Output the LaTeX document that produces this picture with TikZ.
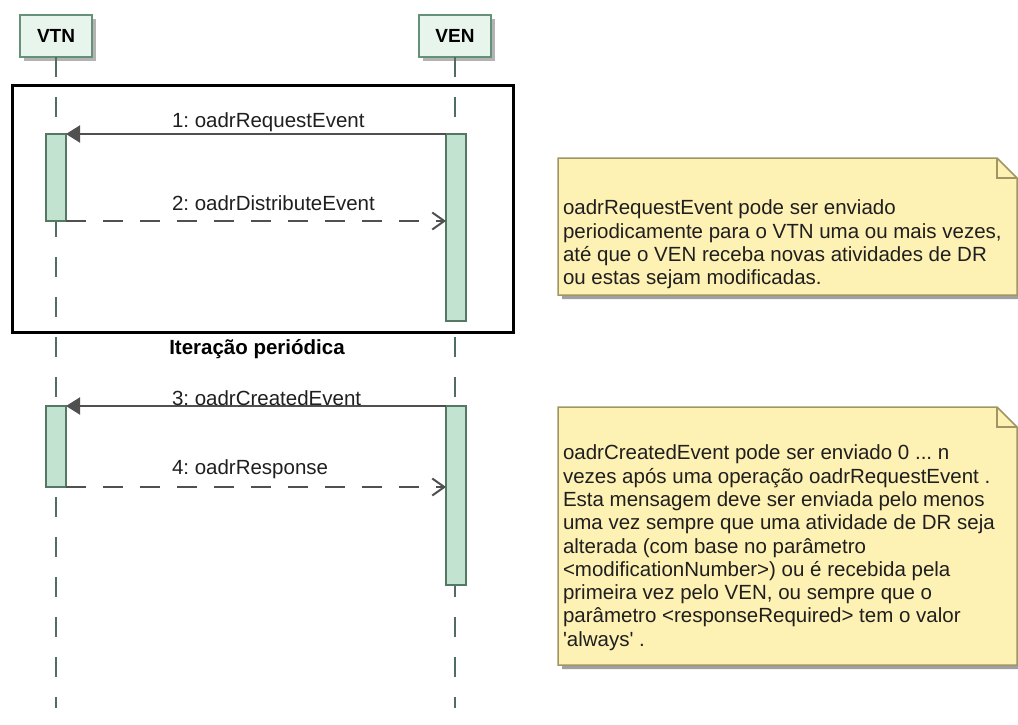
\documentclass[tikz,border=0pt]{standalone}
\usepackage{fontspec}
\setmainfont{Liberation Sans}
\usetikzlibrary{arrows.meta,shadows}
\frenchspacing

\definecolor{headfill}{RGB}{232,245,237}
\definecolor{headline}{RGB}{100,145,120}
\definecolor{actfill}{RGB}{193,227,207}
\definecolor{actline}{RGB}{85,120,100}
\definecolor{lifecol}{RGB}{80,110,95}
\definecolor{msgcol}{RGB}{80,80,80}
\definecolor{notefill}{RGB}{254,241,180}
\definecolor{noteline}{RGB}{160,150,100}
\definecolor{noteshadow}{RGB}{160,160,160}

\begin{document}
\begin{tikzpicture}[x=1pt,y=-1pt,
  every node/.style={inner sep=0pt, outer sep=0pt},
  head/.style={draw=headline, fill=headfill, line width=2pt,
    minimum width=72pt, minimum height=42pt,
    font=\fontsize{19}{22}\selectfont\bfseries,
    drop shadow={shadow xshift=4pt, shadow yshift=-4pt, fill=noteshadow, opacity=0.8}},
  act/.style={draw=actline, fill=actfill, line width=1.8pt, minimum width=20pt},
  life/.style={draw=lifecol, line width=2.5pt, dash pattern=on 20pt off 20pt},
  syncmsg/.style={draw=msgcol, line width=2pt, -{Triangle[length=14pt,width=17pt]}},
  replymsg/.style={draw=msgcol, line width=2pt, dash pattern=on 20pt off 17pt,
    -{Straight Barb[length=12pt,width=17pt]}},
  msglabel/.style={anchor=base west, font=\fontsize{20.5}{24}\selectfont, text=black!88},
  notebox/.style={fill=notefill, draw=noteline, line width=1.5pt, line join=miter},
  notetext/.style={anchor=north west, align=left,
    font=\fontsize{20.5}{23.3}\selectfont, text=black!88},
]
\useasboundingbox (0,0) rectangle (1018,724);

% lifeline heads
\node[head] (vtn) at (56,36) {VTN};
\node[head] (ven) at (455,36) {VEN};
\coordinate (vtnEnd) at (56,708);
\coordinate (venEnd) at (455,708);

% lifelines
\draw[life] (vtn.south) -- (vtnEnd);
\draw[life] (ven.south) -- (venEnd);

% combined fragment
\node[draw=black, line width=3pt, minimum width=501pt, minimum height=247pt]
  (frame) at (262.5,208.5) {};
\node[anchor=base, font=\fontsize{20.5}{24}\selectfont\bfseries] (frameLabel)
  at (257,354) {Iteração periódica};

% activations
\node[act, minimum height=87pt]  (vtnA1) at (56,177.5) {};
\node[act, minimum height=187pt] (venA1) at (456,227.5) {};
\node[act, minimum height=81pt]  (vtnA2) at (56,446.5) {};
\node[act, minimum height=179pt] (venA2) at (456,495.5) {};

% messages
\draw[syncmsg]  (venA1.north west) -- (vtnA1.north east);
\draw[replymsg] (vtnA1.south east) -- (vtnA1.south east -| venA1.west);
\draw[syncmsg]  (venA2.north west) -- (vtnA2.north east);
\draw[replymsg] (vtnA2.south east) -- (vtnA2.south east -| venA2.west);

\node[msglabel] (m1) at (172,127) {1: oadrRequestEvent};
\node[msglabel] (m2) at (172,210) {2: oadrDistributeEvent};
\node[msglabel] (m3) at (172,405) {3: oadrCreatedEvent};
\node[msglabel] (m4) at (172,474) {4: oadrResponse};

% first note
\fill[noteshadow] (562,162) -- (1001,162) -- (1021,182) -- (1021,299) -- (562,299) -- cycle;
\filldraw[notebox] (558,158) -- (997,158) -- (1017,178) -- (1017,295) -- (558,295) -- cycle;
\draw[draw=noteline, line width=1.5pt] (997,158) -- (997,178) -- (1017,178);
\node[notetext] (note1) at (563,200) {oadrRequestEvent pode ser enviado\\
periodicamente para o VTN uma ou mais vezes,\\
até que o VEN receba novas atividades de DR\\
ou estas sejam modificadas.};

% second note
\fill[noteshadow] (562,411) -- (1001,411) -- (1021,431) -- (1021,669) -- (562,669) -- cycle;
\filldraw[notebox] (558,407) -- (997,407) -- (1017,427) -- (1017,665) -- (558,665) -- cycle;
\draw[draw=noteline, line width=1.5pt] (997,407) -- (997,427) -- (1017,427);
\node[notetext] (note2) at (563,445) {oadrCreatedEvent pode ser enviado 0 ... n\\
vezes após uma operação oadrRequestEvent .\\
Esta mensagem deve ser enviada pelo menos\\
uma vez sempre que uma atividade de DR seja\\
alterada (com base no parâmetro\\
<modificationNumber>) ou é recebida pela\\
primeira vez pelo VEN, ou sempre que o\\
parâmetro <responseRequired> tem o valor\\
\textquotesingle always\textquotesingle{} .};
\end{tikzpicture}
\end{document}
